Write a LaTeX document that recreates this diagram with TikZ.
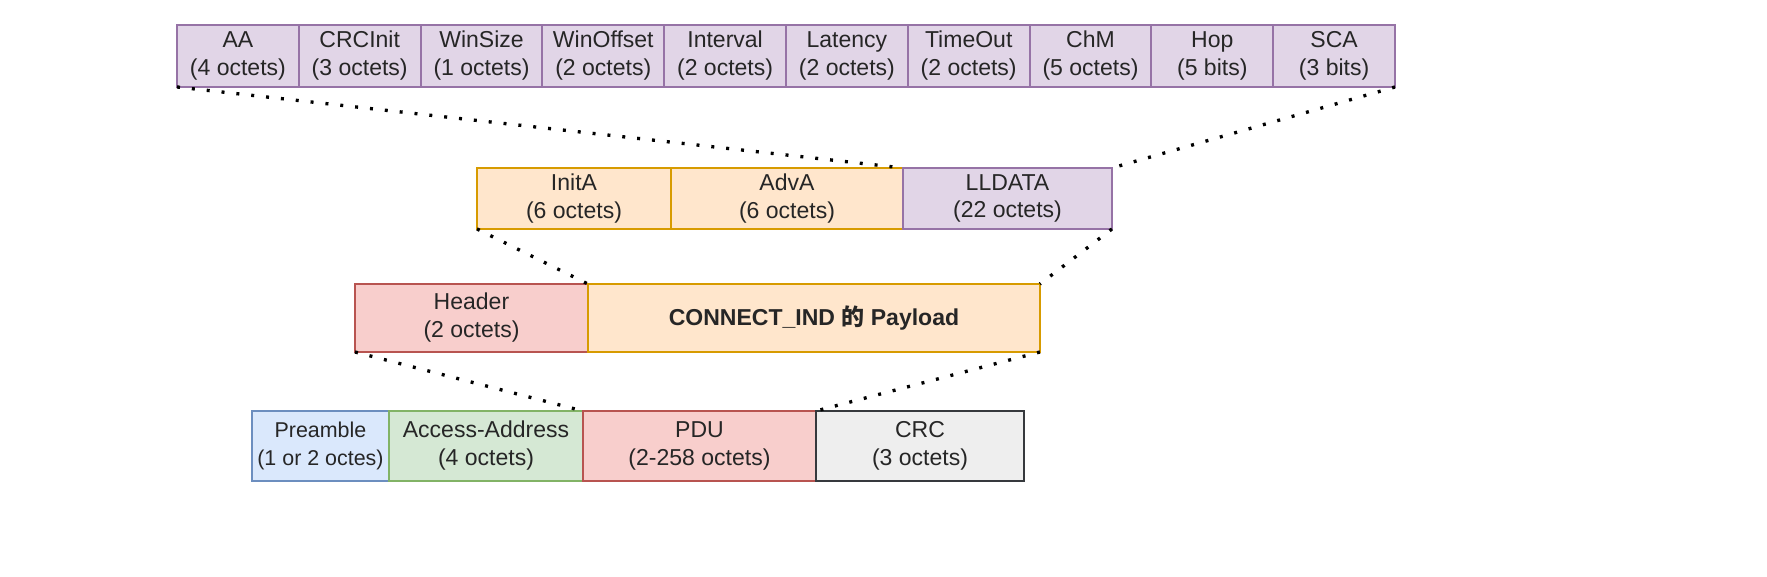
\documentclass[tikz,border=0pt]{standalone}
\usepackage{fontspec}
\setmainfont{Liberation Sans}
\newfontfamily\cjk{Noto Sans CJK SC}
\usepackage{tikz}
\usepackage{xcolor}
\definecolor{purpleFill}{HTML}{E1D5E7}
\definecolor{purpleLine}{HTML}{9673A6}
\definecolor{orangeFill}{HTML}{FFE6CC}
\definecolor{orangeLine}{HTML}{D79B00}
\definecolor{redFill}{HTML}{F8CECC}
\definecolor{redLine}{HTML}{B85450}
\definecolor{blueFill}{HTML}{DAE8FC}
\definecolor{blueLine}{HTML}{6C8EBF}
\definecolor{greenFill}{HTML}{D5E8D4}
\definecolor{greenLine}{HTML}{82B366}
\definecolor{grayFill}{HTML}{EEEEEE}
\definecolor{grayLine}{HTML}{36393D}
\tikzset{
field/.style={draw, line width=1.15pt, inner sep=0pt, outer sep=0pt, anchor=north west,
  align=center, text=black!85, font=\fontsize{13.1}{15.9}\selectfont},
purplebox/.style={field, fill=purpleFill, draw=purpleLine},
orangebox/.style={field, fill=orangeFill, draw=orangeLine},
redbox/.style={field, fill=redFill, draw=redLine},
bluebox/.style={field, fill=blueFill, draw=blueLine},
greenbox/.style={field, fill=greenFill, draw=greenLine},
graybox/.style={field, fill=grayFill, draw=grayLine},
dotline/.style={line width=1.9pt, dash pattern=on 1.7pt off 6.8pt}
}

\begin{document}
\begin{tikzpicture}[x=0.02cm,y=-0.02cm]
\useasboundingbox (0,0) rectangle (1767,577);
% top row: LLDATA fields
\foreach \n/\s [count=\i from 0] in {AA/4 octets,CRCInit/3 octets,WinSize/1 octets,
  WinOffset/2 octets,Interval/2 octets,Latency/2 octets,TimeOut/2 octets,
  ChM/5 octets,Hop/5 bits,SCA/3 bits}{
\node[purplebox, minimum width=2.436cm, minimum height=1.24cm] (t\i) at ({177+121.8*\i},25) {\n\\(\s)};}
% payload row
\node[orangebox, minimum width=3.88cm, minimum height=1.22cm] (inita) at (477,168) {InitA\\(6 octets)};
\node[orangebox, minimum width=4.64cm, minimum height=1.22cm] (adva) at (671,168) {AdvA\\(6 octets)};
\node[purplebox, minimum width=4.18cm, minimum height=1.22cm] (lldata) at (903,168) {LLDATA\\(22 octets)};
% PDU row
\node[redbox, minimum width=4.66cm, minimum height=1.36cm] (header) at (355,284) {Header\\(2 octets)};
\node[orangebox, minimum width=9.04cm, minimum height=1.36cm, font=\fontsize{13.1}{15.9}\selectfont\bfseries] (payload) at (588,284) {CONNECT\_IND {\cjk 的} Payload};
% packet row
\node[bluebox, minimum width=2.74cm, minimum height=1.4cm, font=\fontsize{12.2}{15.9}\selectfont] (pre) at (252,411) {Preamble\\(1 or 2 octes)};
\node[greenbox, minimum width=3.88cm, minimum height=1.4cm] (aa) at (389,411) {Access-Address\\(4 octets)};
\node[redbox, minimum width=4.66cm, minimum height=1.4cm] (pdu) at (583,411) {PDU\\(2-258 octets)};
\node[graybox, minimum width=4.16cm, minimum height=1.4cm] (crc) at (816,411) {CRC\\(3 octets)};
% zoom lines
\draw[dotline] (t0.south west) -- (lldata.north west);
\draw[dotline] (t9.south east) -- (lldata.north east);
\draw[dotline] (inita.south west) -- (payload.north west);
\draw[dotline] (lldata.south east) -- (payload.north east);
\draw[dotline] (header.south west) -- (pdu.north west);
\draw[dotline] (payload.south east) -- (crc.north west);
\end{tikzpicture}
\end{document}
